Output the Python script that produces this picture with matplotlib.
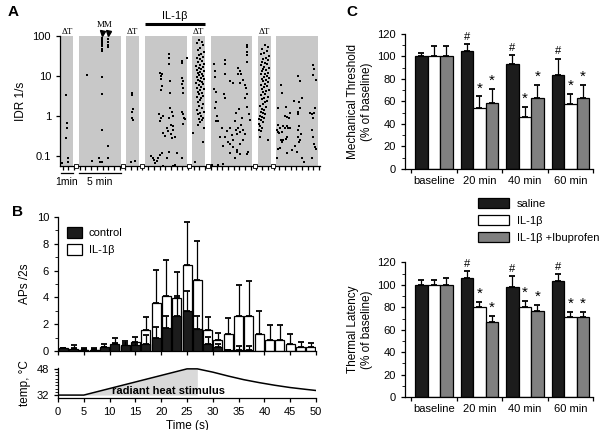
import numpy as np
import matplotlib.pyplot as plt
from matplotlib.patches import Patch
from matplotlib.ticker import MultipleLocator, FixedLocator, NullFormatter

plt.rcParams['font.family'] = ['Liberation Sans', 'DejaVu Sans']
plt.rcParams['font.size'] = 7.5
plt.rcParams['axes.linewidth'] = 0.9
plt.rcParams['xtick.major.width'] = 0.9
plt.rcParams['ytick.major.width'] = 0.9

# ---------------- Panel A data (broken time axis, arbitrary units) ----------------
block_start = [61, 79, 126, 145, 192, 211, 258, 276]
block_end = [73, 121, 139, 187, 205, 252, 271, 318]
heat_block = [True, False, True, False, True, False, True, False]
mm_times = [102, 108]
il1b_start, il1b_end = 145, 205

blk1_x = [62, 66, 67, 67, 66, 68, 68]
blk1_y = [0.068, 3.4, 0.68, 0.49, 0.29, 0.09, 0.07]

blk2_x = [87, 92, 99, 100, 102, 102, 102, 102, 102, 102, 102, 102, 102, 102, 102,
          108, 108, 108, 108, 108, 108]
blk2_y = [10.5, 0.075, 0.09, 0.072, 90, 80, 72, 63, 55, 48, 42, 9.5, 3.5, 0.46, 0.07,
          85, 70, 60, 52, 0.18, 0.09]

blk3_x = [132, 132, 133, 132, 132, 133, 131, 135]
blk3_y = [3.8, 3.4, 1.5, 1.3, 0.87, 0.82, 0.07, 0.075]

blk4_x = [160, 161, 162, 161, 162, 161, 169, 169, 169, 170, 170, 182, 182, 187, 182, 183, 182, 183, 183,
          159, 161, 160, 163, 170, 172, 169, 173, 171, 173, 182, 183, 184, 185, 183,
          167, 168, 171, 173, 175, 172, 163, 165,
          151, 153, 154, 155, 157, 158, 160, 162, 163, 167, 169, 173, 175, 182, 177]
blk4_y = [12, 10, 11.5, 8.3, 5.6, 4.6, 35, 29, 20, 7.5, 3.8, 24, 21.5, 28.8, 9.1, 7.5, 6.2, 5.1, 3.8,
          1.12, 0.9, 0.75, 1.0, 1.6, 1.3, 0.91, 1.0, 0.6, 0.55, 1.3, 1.1, 0.9, 0.85, 0.65,
          0.5, 0.42, 0.35, 0.45, 0.3, 0.28, 0.38, 0.32,
          0.1, 0.088, 0.078, 0.068, 0.075, 0.09, 0.106, 0.12, 0.056, 0.09, 0.13, 0.056, 0.06, 0.09, 0.12]

blk5_x = [199, 202, 197, 203, 200, 198, 204, 201, 199, 203,
          197, 200, 202, 198, 204, 200, 196, 203, 199, 201,
          197, 204, 200, 198, 202, 199, 203, 197, 201, 204,
          198, 200, 202, 196, 203, 199, 201, 197, 204, 200,
          198, 202, 199, 203, 197, 201, 200, 198, 203, 199,
          202, 197, 204, 200, 198, 201, 203, 199, 202, 200,
          198, 204, 193, 203, 195]
blk5_y = [80, 72, 65, 58, 50, 45, 40, 36, 33, 30,
          28, 26, 24, 22, 20, 19, 18, 17, 16, 15,
          14, 13, 12.5, 12, 11, 10.5, 10, 9.5, 9, 8.5,
          8, 7.5, 7, 6.6, 6.2, 5.8, 5.4, 5, 4.7, 4.4,
          4.1, 3.8, 3.5, 3.2, 3.0, 2.8, 2.5, 2.2, 2.0, 1.8,
          1.6, 1.4, 1.3, 1.2, 1.1, 1.0, 0.9, 0.85, 0.8, 0.7,
          0.6, 0.5, 0.38, 0.22, 0.07]

blk6_x = [214, 215, 215, 214, 216, 216, 215, 217, 216, 225, 225, 225, 224, 225, 230, 233,
          238, 240, 241, 238, 240, 243, 247, 247, 247, 247, 247, 245, 246, 247, 245, 247,
          218, 222, 227, 230, 232, 233, 235, 236, 237, 238, 240, 241, 243, 245,
          230, 233, 237, 240, 243, 228, 225, 223, 236, 239, 242, 249, 250,
          212, 218, 223, 230, 237, 240, 247, 248, 220, 235]
blk6_y = [20, 13, 9.5, 4.7, 3.9, 2.3, 1.6, 0.98, 0.75, 24.6, 20, 11, 3.5, 2.9, 7.5, 6.8,
          16, 13, 11, 11, 6.8, 8, 60, 52, 40, 34, 23, 6, 5, 3.5, 2.9, 1.7,
          0.75, 0.5, 0.42, 0.5, 0.33, 0.25, 0.75, 0.45, 0.35, 0.5, 0.4, 0.6, 0.45, 0.35,
          0.2, 0.17, 0.14, 0.2, 0.25, 0.22, 0.3, 0.18, 1.2, 1.5, 0.9, 1.1, 0.8,
          0.06, 0.06, 0.065, 0.12, 0.13, 0.11, 0.11, 0.13, 0.3, 0.09]

blk7_x = [265, 268, 262, 267, 264, 261, 269, 266, 263, 268,
          262, 265, 267, 261, 264, 269, 263, 266, 262, 268,
          265, 261, 267, 264, 269, 262, 266, 263, 268, 265,
          261, 267, 264, 262, 269, 266, 263, 265, 261, 268,
          264, 262, 267, 265, 263, 260, 266, 262, 264, 261,
          263, 265, 260, 262, 264, 259, 261, 263, 259, 260,
          262, 259, 261, 260, 268]
blk7_y = [58, 52, 47, 42, 38, 35, 32, 29, 27, 25,
          23, 21, 20, 18.5, 17, 16, 15, 14, 13, 12,
          11.5, 11, 10, 9.5, 9, 8.5, 8, 7.5, 7, 6.5,
          6, 5.6, 5.2, 4.8, 4.5, 4.2, 3.9, 3.6, 3.3, 3.0,
          2.8, 2.6, 2.4, 2.2, 2.0, 1.8, 1.7, 1.5, 1.4, 1.3,
          1.2, 1.1, 1.0, 0.95, 0.9, 0.85, 0.8, 0.7, 0.62, 0.55,
          0.5, 0.45, 0.42, 0.3, 0.25]

blk8_x = [313, 314, 313, 316, 315, 314, 312, 313, 310, 312, 313, 314, 315, 316, 312,
          298, 300, 302, 299, 300, 298, 298, 294, 299, 298, 301, 298, 300, 299, 295, 297, 302, 304, 292,
          281, 282, 278, 286, 285, 287, 289, 290, 278, 280, 277, 278, 279, 282, 283, 285, 287, 288, 290,
          281, 282, 283, 286, 287, 278, 280, 287, 292, 277]
blk8_y = [18.5, 14.7, 10.4, 7.9, 1.6, 1.2, 1.1, 0.9, 1.2, 0.46, 0.3, 0.2, 0.17, 0.15, 0.09,
          10, 7.5, 2.8, 2.3, 1.6, 1.3, 1.1, 2.4, 0.55, 0.45, 0.35, 0.3, 0.25, 0.22, 0.18, 0.13, 0.09, 0.07, 0.05,
          5.9, 3.8, 1.6, 1.7, 1.0, 0.95, 0.9, 1.2, 0.6, 0.5, 0.45, 0.4, 0.38, 0.4, 0.55, 0.5, 0.55, 0.5, 0.5,
          0.25, 0.22, 0.25, 0.27, 0.3, 0.15, 0.16, 0.12, 0.14, 0.09]

# ---------------- Panel B data ----------------
time_bins = [1, 3, 5, 7, 9, 11, 13, 15, 17, 19, 21, 23, 25, 27, 29, 31, 33, 35, 37, 39, 41, 43, 45, 47, 49]
ctrl_mean = [0.2, 0.15, 0.1, 0.05, 0.3, 0.55, 0.45, 0.45, 0.55, 1.0, 1.7, 2.65, 2.95, 1.65, 0.55,
             0.3, 0.05, 0.1, 0.1, 0, 0, 0, 0, 0, 0]
ctrl_sem = [0.05, 0.3, 0.15, 0.2, 0.25, 0.45, 0.3, 0.15, 0.65, 0.8, 0.95, 1.45, 1.5, 0.95, 0.5,
            0.25, 0.05, 0.3, 0.3, 0, 0, 0, 0, 0, 0]
il_mean = [0.1, 0.1, 0.05, 0.05, 0.2, 0.4, 0.4, 0.7, 1.55, 3.55, 4.1, 3.95, 6.45, 5.3, 1.55,
           0.8, 1.25, 2.6, 2.6, 1.25, 0.8, 0.8, 0.55, 0.3, 0.3]
il_sem = [0.1, 0.1, 0.1, 0.1, 0.1, 0.2, 0.2, 0.35, 1.0, 2.5, 2.7, 1.95, 3.2, 2.9, 1.0,
          0.55, 1.2, 2.35, 2.65, 1.75, 1.15, 1.15, 0.7, 0.35, 0.3]

temp_t = [0, 5, 25, 27, 30, 33, 36, 39, 42, 45, 48, 50]
temp_c = [32, 32, 48, 48, 46.0, 43.6, 41.4, 39.6, 38.0, 36.6, 35.5, 34.8]

# ---------------- Panel C data ----------------
groups = ['baseline', '20 min', '40 min', '60 min']
mech_saline = [100, 105, 93, 83.5]
mech_saline_err = [3.5, 6, 8, 14.5]
mech_il = [100, 54.5, 46.5, 57.5]
mech_il_err = [9, 10, 9, 9.5]
mech_ibu = [100, 59, 63.5, 63.5]
mech_ibu_err = [9.5, 12.5, 11, 11]
therm_saline = [100, 106, 98.5, 103]
therm_saline_err = [4, 6.5, 9, 6.5]
therm_il = [100, 80.5, 80, 71.5]
therm_il_err = [4.5, 4.5, 6, 4]
therm_ibu = [100, 66.5, 76.5, 71.5]
therm_ibu_err = [6, 5.5, 5.5, 4]
sig_saline = ['', '#', '#', '#']
sig_il = ['', '*', '*', '*']
sig_ibu = ['', '*', '*', '*']

fig = plt.figure(figsize=(6, 4.3), dpi=100)

# ================= Panel A =================
ax_a = fig.add_axes([0.1, 0.6128, 0.4333, 0.3035])
ax_a.set_yscale('log')
ax_a.set_xlim(60, 320)
ax_a.set_ylim(0.055, 100)
for s, e, heat in zip(block_start, block_end, heat_block):
    ax_a.axvspan(s, e, color='#c8c8c8', lw=0, zorder=0)
    if heat:
        ax_a.text((s + e) / 2, 126, '\u0394T', family=['Liberation Serif', 'DejaVu Serif'],
                  fontsize=6.5, ha='center', va='center', clip_on=False)

all_x = [blk1_x, blk2_x, blk3_x, blk4_x, blk5_x, blk6_x, blk7_x, blk8_x]
all_y = [blk1_y, blk2_y, blk3_y, blk4_y, blk5_y, blk6_y, blk7_y, blk8_y]
for xs, ys in zip(all_x, all_y):
    ax_a.plot(xs, ys, 's', color='k', ms=2.0, mew=0, zorder=3)

# break markers on the time axis between recording segments
gaps = [(e + s) / 2 for e, s in zip(block_end[:-1], block_start[1:])]
ax_a.plot(gaps, [0.055] * len(gaps), 's', mfc='white', mec='k', ms=3, mew=0.6,
          clip_on=False, zorder=5)

# mechanical stimuli arrows and IL-1b application bar
ax_a.plot(mm_times, [119, 119], 'v', color='k', ms=3.6, clip_on=False)
ax_a.text(np.mean(mm_times), 190, 'MM', family=['Liberation Serif', 'DejaVu Serif'],
          fontsize=6.5, ha='center', va='center')
ax_a.plot([il1b_start, il1b_end], [200, 200], color='k', lw=2.2, clip_on=False, solid_capstyle='butt')
ax_a.text((il1b_start + il1b_end) / 2, 320, 'IL-1\u03b2', fontsize=8, ha='center', va='center')

# scale bars
ax_a.plot([block_start[0], block_end[0]], [0.038, 0.038], color='k', lw=0.9, clip_on=False)
ax_a.plot([block_start[1], block_end[1]], [0.038, 0.038], color='k', lw=0.9, clip_on=False)
ax_a.text((block_start[0] + block_end[0]) / 2, 0.022, '1min', fontsize=7.5, ha='center', va='center')
ax_a.text((block_start[1] + block_end[1]) / 2, 0.022, '5 min', fontsize=7.5, ha='center', va='center')

ax_a.yaxis.set_major_locator(FixedLocator([0.1, 1, 10, 100]))
ax_a.set_yticklabels(['0.1', '1', '10', '100'])
ax_a.yaxis.set_minor_locator(FixedLocator([]))
ax_a.xaxis.set_major_locator(MultipleLocator(5.7))
ax_a.xaxis.set_major_formatter(NullFormatter())
ax_a.tick_params(axis='both', direction='out', length=3, labelsize=8)
ax_a.spines['top'].set_visible(False)
ax_a.spines['right'].set_visible(False)
ax_a.set_ylabel('IDR 1/s', fontsize=8.5, labelpad=4)

# ================= Panel B =================
ax_b = fig.add_axes([0.0967, 0.1837, 0.43, 0.3116])
zeros = np.zeros(len(time_bins))
ax_b.bar(time_bins, il_mean, width=1.75, color='white', edgecolor='k', lw=0.9, zorder=2)
ax_b.errorbar(time_bins, il_mean, yerr=[zeros, il_sem], fmt='none', ecolor='k',
              elinewidth=0.9, capsize=2.5, capthick=1.3, zorder=3)
ctrl_mask = np.array(ctrl_mean) > 0
tb = np.array(time_bins)[ctrl_mask]
cm = np.array(ctrl_mean)[ctrl_mask]
cs = np.array(ctrl_sem)[ctrl_mask]
ax_b.bar(tb, cm, width=1.75, color='#1c1c1c', edgecolor='k', lw=0.9, zorder=4)
ax_b.errorbar(tb, cm, yerr=[np.zeros(len(tb)), cs], fmt='none', ecolor='k',
              elinewidth=0.9, capsize=2.5, capthick=1.3, zorder=5)
ax_b.set_xlim(0, 50)
ax_b.set_ylim(0, 10)
ax_b.yaxis.set_major_locator(MultipleLocator(2))
ax_b.yaxis.set_minor_locator(MultipleLocator(1))
ax_b.xaxis.set_major_locator(MultipleLocator(5))
ax_b.xaxis.set_major_formatter(NullFormatter())
ax_b.tick_params(axis='both', which='both', direction='out', labelsize=8)
ax_b.tick_params(which='major', length=3)
ax_b.tick_params(which='minor', length=2)
ax_b.spines['top'].set_visible(False)
ax_b.spines['right'].set_visible(False)
ax_b.set_ylabel('APs /2s', fontsize=8.5, labelpad=4)
leg_b = ax_b.legend(handles=[Patch(facecolor='#1c1c1c', edgecolor='k', lw=0.9),
                             Patch(facecolor='white', edgecolor='k', lw=0.9)],
                    labels=['control', 'IL-1\u03b2'], loc='upper left',
                    bbox_to_anchor=(0.1117, 0.472), bbox_transform=fig.transFigure,
                    frameon=False, fontsize=8, handlelength=1.35, handleheight=1.2,
                    labelspacing=0.5, handletextpad=0.6, borderpad=0, borderaxespad=0)

ax_t = fig.add_axes([0.0967, 0.0751, 0.43, 0.0686])
ax_t.plot(temp_t, temp_c, color='k', lw=1.1, zorder=3)
tt = np.array(temp_t)
tc = np.array(temp_c)
heat_mask = (tt >= 5) & (tt <= 27)
ax_t.fill_between(tt[heat_mask], 32, tc[heat_mask], color='#d9d9d9', lw=0, zorder=1)
ax_t.text(21.5, 34.6, 'radiant heat stimulus', fontsize=8, fontweight='bold',
          ha='center', va='center', zorder=4)
ax_t.set_xlim(0, 50)
ax_t.set_ylim(30.4, 48.4)
ax_t.yaxis.set_major_locator(FixedLocator([32, 48]))
ax_t.yaxis.set_minor_locator(MultipleLocator(2))
ax_t.xaxis.set_major_locator(MultipleLocator(5))
ax_t.tick_params(axis='both', which='both', direction='out', labelsize=8)
ax_t.tick_params(which='major', length=3)
ax_t.tick_params(which='minor', length=2)
ax_t.spines['top'].set_visible(False)
ax_t.spines['right'].set_visible(False)
ax_t.set_ylabel('temp, \u00b0C', fontsize=8.5, labelpad=4)
ax_t.set_xlabel('Time (s)', fontsize=8.5, labelpad=2)

# ================= Panel C =================
def group_bars(ax, saline, saline_err, il, il_err, ibu, ibu_err):
    g = np.arange(len(groups))
    w = 0.275
    series = [(g - w, saline, saline_err, '#1c1c1c', sig_saline),
              (g, il, il_err, 'white', sig_il),
              (g + w, ibu, ibu_err, '#808080', sig_ibu)]
    for pos, vals, errs, col, sig in series:
        ax.bar(pos, vals, width=w, color=col, edgecolor='k', lw=0.9, zorder=2)
        ax.errorbar(pos, vals, yerr=[np.zeros(len(vals)), errs], fmt='none', ecolor='k',
                    elinewidth=0.9, capsize=2.5, capthick=1.3, zorder=3)
        for p, v, e, s in zip(pos, vals, errs, sig):
            if s == '#':
                ax.text(p, v + e + 2, s, fontsize=8, ha='center', va='bottom')
            elif s == '*':
                ax.text(p, v + e + 1, s, fontsize=11, ha='center', va='bottom')
    ax.set_xlim(-0.637, 3.5)
    ax.set_ylim(0, 120)
    ax.xaxis.set_major_locator(FixedLocator([-0.5, 0.5, 1.5, 2.5, 3.5]))
    ax.xaxis.set_major_formatter(NullFormatter())
    ax.xaxis.set_minor_locator(FixedLocator(list(g)))
    ax.set_xticklabels(groups, minor=True)
    ax.tick_params(axis='x', which='minor', length=0, pad=5, labelsize=8)
    ax.tick_params(axis='x', which='major', length=3, direction='out')
    ax.yaxis.set_major_locator(MultipleLocator(20))
    ax.yaxis.set_minor_locator(MultipleLocator(10))
    ax.tick_params(axis='y', which='major', length=3, direction='out', labelsize=8)
    ax.tick_params(axis='y', which='minor', length=2, direction='out')
    ax.spines['top'].set_visible(False)
    ax.spines['right'].set_visible(False)

ax_c1 = fig.add_axes([0.675, 0.607, 0.3133, 0.314])
group_bars(ax_c1, mech_saline, mech_saline_err, mech_il, mech_il_err, mech_ibu, mech_ibu_err)
ax_c1.set_ylabel('Mechanical Threshold\n(% of baseline)', fontsize=8.5, labelpad=3)

ax_c2 = fig.add_axes([0.675, 0.0767, 0.3133, 0.313])
group_bars(ax_c2, therm_saline, therm_saline_err, therm_il, therm_il_err, therm_ibu, therm_ibu_err)
ax_c2.set_ylabel('Thermal Latency\n(% of baseline)', fontsize=8.5, labelpad=3)

fig.legend(handles=[Patch(facecolor='#1c1c1c', edgecolor='k', lw=0.9),
                    Patch(facecolor='white', edgecolor='k', lw=0.9),
                    Patch(facecolor='#808080', edgecolor='k', lw=0.9)],
           labels=['saline', 'IL-1\u03b2', 'IL-1\u03b2 +Ibuprofen'], loc='upper left',
           bbox_to_anchor=(0.797, 0.5395), frameon=False, fontsize=8,
           handlelength=2.8, handleheight=1.0, labelspacing=0.55, handletextpad=0.7,
           borderpad=0, borderaxespad=0)

# panel letters
fig.text(0.013, 0.972, 'A', fontsize=11, fontweight='bold', va='center')
fig.text(0.02, 0.507, 'B', fontsize=11, fontweight='bold', va='center')
fig.text(0.578, 0.972, 'C', fontsize=11, fontweight='bold', va='center')

fig.savefig('out.png', dpi=100)
